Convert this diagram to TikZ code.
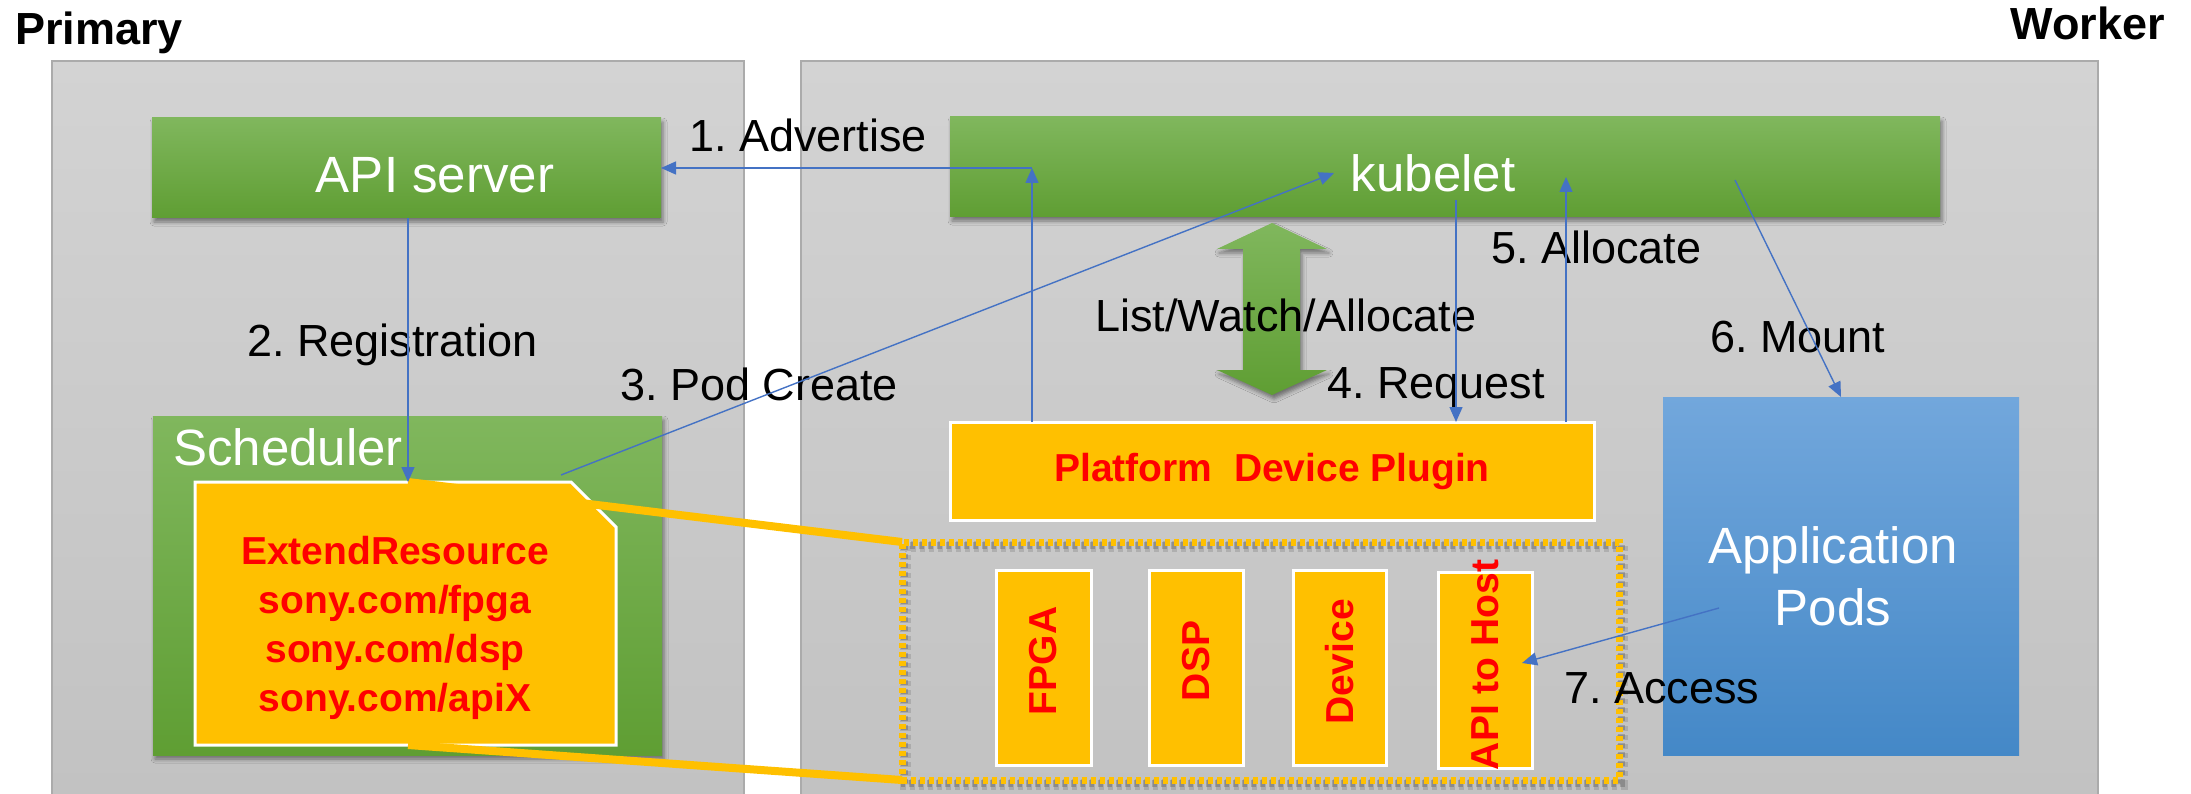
\documentclass[tikz,border=0pt]{standalone}
\usepackage{fontspec}
\setmainfont{Liberation Sans}
\usetikzlibrary{arrows.meta,shadows.blur}
\frenchspacing

\definecolor{panelTop}{HTML}{D3D3D3}
\definecolor{panelBot}{HTML}{C2C2C2}
\definecolor{panelLine}{HTML}{ABABAB}
\definecolor{greenTop}{HTML}{80B75D}
\definecolor{greenBot}{HTML}{5F9E33}
\definecolor{gold}{HTML}{FFC000}
\definecolor{alert}{HTML}{FF0000}
\definecolor{flowblue}{HTML}{4472C4}
\definecolor{podTop}{HTML}{72A7DC}
\definecolor{podBot}{HTML}{4488C7}

\tikzset{
  box/.style={rectangle, anchor=north west, inner sep=0pt, outer sep=0pt},
  panel/.style={top color=panelTop, bottom color=panelBot},
  greenbox/.style={box, top color=greenTop, bottom color=greenBot,
    blur shadow={shadow xshift=2pt, shadow yshift=-4pt, shadow blur radius=4pt, shadow opacity=45}},
  goldbox/.style={box, fill=gold, draw=white, line width=3pt},
  podbox/.style={box, top color=podTop, bottom color=podBot},
  flow/.style={draw=flowblue, line width=1.4pt, -{Triangle[length=15pt,width=13pt]}},
  link/.style={draw=gold, line width=8pt},
  title/.style={font=\bfseries\fontsize{45}{54}\selectfont, inner sep=0pt},
  lbl/.style={font=\fontsize{45}{54}\selectfont, inner sep=0pt, anchor=base west},
  whitetxt/.style={font=\fontsize{51}{62}\selectfont, text=white, inner sep=0pt},
  redtxt/.style={font=\bfseries\fontsize{39}{49}\selectfont, text=alert, inner sep=0pt},
}

\begin{document}
\begin{tikzpicture}[x=1pt, y=-1pt]
\useasboundingbox (0,0) rectangle (2191,794);

% node headings
\node[title, anchor=base west] (primaryttl) at (15,45) {Primary};
\node[title, anchor=base east] (workerttl) at (2165,40) {Worker};

% primary and worker panels (open at the bottom edge)
\fill[panel] (52,61) rectangle (744,794);
\draw[panelLine, line width=1.5pt] (52,794) -- (52,61) -- (744,61) -- (744,794);
\fill[panel] (801,61) rectangle (2098,794);
\draw[panelLine, line width=1.5pt] (801,794) -- (801,61) -- (2098,61) -- (2098,794);

% primary components
\node[greenbox, minimum width=509pt, minimum height=100pt] (api) at (152,118) {};
\node[whitetxt, anchor=base] (apitxt) at (435,193) {API server};
\node[greenbox, minimum width=509pt, minimum height=339pt] (sched) at (153,416) {};
\node[whitetxt, anchor=base west] (schedtxt) at (173,465) {Scheduler};

% extended resource card with a snipped corner
\path[fill=gold, draw=white, line width=3pt]
  (195,482) -- (571,482) -- (616,527) -- (616,745) -- (195,745) -- cycle;
\node[redtxt, anchor=north, align=center] (exttxt) at (395,536)
  {ExtendResource\\sony.com/fpga\\sony.com/dsp\\sony.com/apiX};

% worker components
\node[greenbox, minimum width=990pt, minimum height=100pt] (kub) at (950,117) {};
\node[whitetxt, anchor=base] (kubtxt) at (1433,192) {kubelet};

% list/watch/allocate double arrow
\path[top color=greenTop, bottom color=greenBot,
      blur shadow={shadow xshift=2pt, shadow yshift=-4pt, shadow blur radius=4pt, shadow opacity=45}]
  (1272,223) -- (1327,249) -- (1300,249) -- (1300,370) -- (1327,370) -- (1272,395)
  -- (1217,370) -- (1243,370) -- (1243,249) -- (1217,249) -- cycle;

\node[goldbox, minimum width=644pt, minimum height=98pt] (pdp) at (950,422) {};
\node[redtxt] (pdptxt) at (pdp.center) {Platform\ \ Device Plugin};

% device group with a soft shadow behind the dotted frame
\draw[black, opacity=0.12, line width=11pt, dash pattern=on 5pt off 4pt]
  (905,546) rectangle (1622,784);
\draw[black, opacity=0.18, line width=7pt, dash pattern=on 5pt off 4pt]
  (904,545) rectangle (1621,783);
\node[box, draw=gold, line width=7pt, dash pattern=on 5pt off 4pt,
      minimum width=717pt, minimum height=238pt] (devs) at (902,542) {};

\node[goldbox, minimum width=95pt, minimum height=195pt] (fpga) at (996,570) {};
\node[goldbox, minimum width=94pt, minimum height=195pt] (dsp) at (1149,570) {};
\node[goldbox, minimum width=93pt, minimum height=195pt] (dev) at (1293,570) {};
\node[goldbox, minimum width=94pt, minimum height=196pt] (host) at (1438,572) {};
\node[redtxt, rotate=90] (fpgatxt) at (1043,661) {FPGA};
\node[redtxt, rotate=90] (dsptxt) at (1196,661) {DSP};
\node[redtxt, rotate=90] (devtxt) at (1340,662) {Device};
\node[redtxt, rotate=90] (hosttxt) at (1485,665) {API to Host};

\node[podbox, minimum width=356pt, minimum height=358pt] (pods) at (1663,397) {};
\node[whitetxt, anchor=north, align=center] (podstxt) at (1833,526) {Application\\Pods};

% thick links from the resource card to the device group
\coordinate (exttop) at (408,482);
\coordinate (extbot) at (408,745);
\draw[link] (exttop) -- (devs.north west);
\draw[link] (extbot) -- (devs.south west);

% step labels
\node[lbl] (l1) at (689,152) {1. Advertise};
\node[lbl] (l2) at (247,356) {2. Registration};
\node[lbl] (l3) at (620,400) {3. Pod Create};
\node[lbl] (lw) at (1095,331) {List/Watch/Allocate};
\node[lbl] (l4) at (1327,398) {4. Request};
\node[lbl] (l5) at (1491,263) {5. Allocate};
\node[lbl] (l6) at (1710,352) {6. Mount};
\node[lbl] (l7) at (1564,703) {7. Access};

% flows
\coordinate (advpt) at (1032,168);
\coordinate (podsrc) at (561,475);
\coordinate (podtgt) at (1334,173);
\coordinate (reqsrc) at (1456,200);
\coordinate (allocpt) at (1566,177);
\coordinate (mountsrc) at (1735,180);
\coordinate (accsrc) at (1719,608);
\coordinate (acctgt) at (1522,663);

\draw[flow] (advpt |- pdp.north) -- (advpt);
\draw[flow] (advpt) -- (api.east);
\draw[flow] (api.south -| exttop) -- (exttop);
\draw[flow] (podsrc) -- (podtgt);
\draw[flow] (reqsrc) -- (reqsrc |- pdp.north);
\draw[flow] (allocpt |- pdp.north) -- (allocpt);
\draw[flow] (mountsrc) -- (pods.north);
\draw[flow] (accsrc) -- (acctgt);
\end{tikzpicture}
\end{document}
